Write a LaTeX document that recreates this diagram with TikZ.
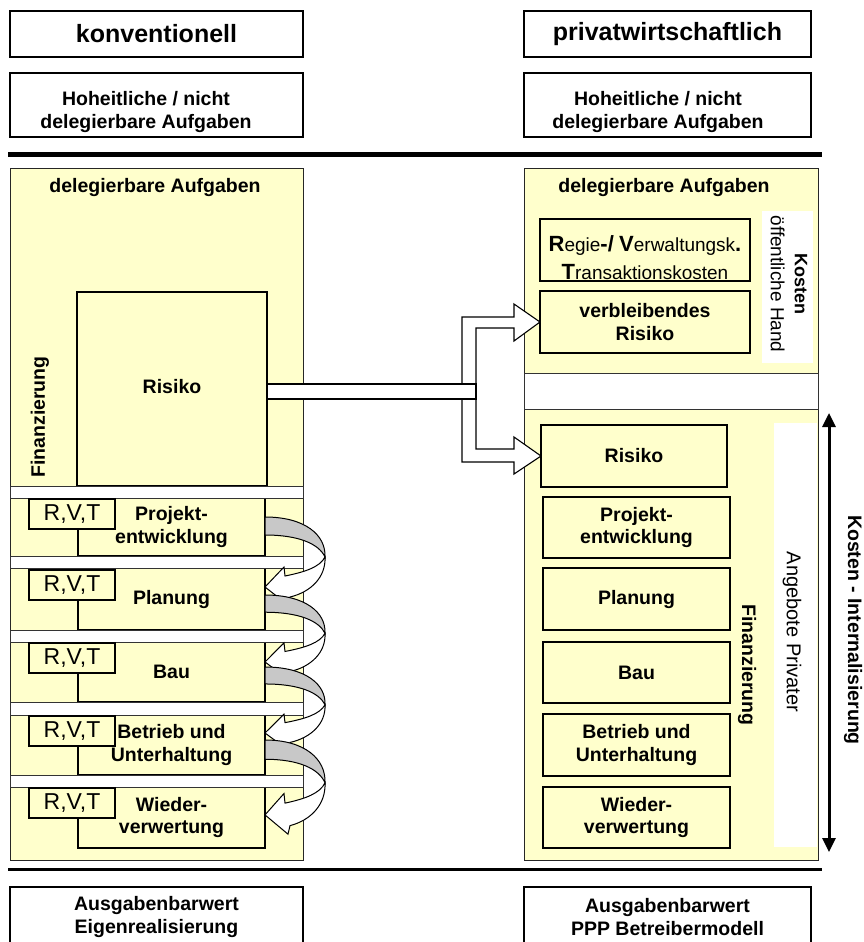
\documentclass[tikz,border=0pt]{standalone}
\usepackage{fontspec}
\setmainfont{Liberation Sans}
\usetikzlibrary{arrows.meta}
\definecolor{panelyellow}{HTML}{FFFFCC}
\definecolor{ribbongray}{HTML}{C8C8C8}
\newcommand\setfs[2]{\fontsize{#1}{#2}\selectfont}
\newcommand\capinit[1]{{\bfseries\setfs{22}{28}#1}}
% rectangle node given by its top-left and bottom-right corners
\newcommand\boxnode[7]{%
  \node[#1, anchor=north west, outer sep=0pt, inner sep=0pt,
        minimum width=#5pt-#3pt, minimum height=#6pt-#4pt] (#2) at (#3,#4) {#7};}
% folded hand-over arrow between two phase boxes
\newcommand\turnarrow[2]{%
  \begin{scope}[shift={(265,#1)}, yscale=#2]
    \filldraw[fill=ribbongray, draw=black, line width=1pt]
      (0,0) .. controls (40,0) and (61,18) .. (60,40)
            .. controls (54,27) and (34,18) .. (0,18) -- cycle;
    \filldraw[fill=white, draw=black, line width=1pt]
      (60,40) .. controls (61,60) and (46,75) .. (25,80)
      -- (23,88) -- (0,70) -- (19,50) -- (20,59)
      .. controls (40,55) and (55,50) .. (60,40) -- cycle;
  \end{scope}}
\tikzset{
  outline/.style={draw=black, line width=1.2pt, fill=white},
  ybox/.style={draw=black, line width=1.2pt, fill=panelyellow},
  panelbox/.style={draw=black!85, line width=1pt, fill=panelyellow},
  whitebar/.style={fill=white, draw=black!80, line width=0.9pt},
  b19/.style={font=\bfseries\setfs{19.5}{22.5}, align=center},
  rvt/.style={ybox, font=\setfs{23}{26}},
}
\begin{document}
\begin{tikzpicture}[x=1pt,y=-1pt]
\useasboundingbox (0,0) rectangle (863,942);

% ---------- headings ----------
\boxnode{outline,font=\bfseries\setfs{25}{29}}{konv}{10}{11}{303}{57}{konventionell}
\boxnode{outline,font=\bfseries\setfs{25}{29}}{priv}{524}{11}{811}{57}{privatwirtschaftlich}
\boxnode{outline}{hohL}{10}{73}{303}{137}{}
\boxnode{outline}{hohR}{524}{73}{811}{137}{}
\node[b19] (hohLt) at (146,112) {Hoheitliche / nicht\\delegierbare Aufgaben};
\node[b19] (hohRt) at (658,112) {Hoheitliche / nicht\\delegierbare Aufgaben};

\coordinate (topA) at (8,154.5);
\coordinate (topB) at (822,154.5);
\draw[line width=5pt] (topA) -- (topB);

% ---------- conventional side ----------
\boxnode{panelbox}{panL}{10}{168}{303}{860}{}
\node[b19] (delL) at (155,187) {delegierbare Aufgaben};
\boxnode{ybox}{riskL}{77}{292}{267}{486}{}
\node[b19] (riskLt) at (172,387) {Risiko};
\node[b19, rotate=90] (finL) at (40,417) {Finanzierung};

\boxnode{ybox,b19}{rowA}{78}{498}{265}{556}{Projekt-\\entwicklung}
\boxnode{ybox,b19}{rowB}{78}{568}{265}{630}{Planung}
\boxnode{ybox,b19}{rowC}{78}{642}{265}{702}{Bau}
\boxnode{ybox,b19}{rowD}{78}{715}{265}{775}{Betrieb und\\Unterhaltung}
\boxnode{ybox,b19}{rowE}{78}{787}{265}{848}{Wieder-\\verwertung}

\draw[whitebar] (10,486) rectangle (303,498);
\draw[whitebar] (10,556) rectangle (303,568);
\draw[whitebar] (10,630) rectangle (303,642);
\draw[whitebar] (10,702) rectangle (303,715);
\draw[whitebar] (10,775) rectangle (303,787);

\boxnode{rvt}{rvtA}{29}{499}{115}{529}{R,V,T}
\boxnode{rvt}{rvtB}{29}{570}{115}{600}{R,V,T}
\boxnode{rvt}{rvtC}{29}{643}{115}{673}{R,V,T}
\boxnode{rvt}{rvtD}{29}{716}{115}{746}{R,V,T}
\boxnode{rvt}{rvtE}{29}{788}{115}{818}{R,V,T}

% ---------- private side ----------
\boxnode{panelbox}{panR}{524}{168}{818}{860}{}
\node[b19] (delR) at (664,187) {delegierbare Aufgaben};
\boxnode{ybox}{regie}{540}{219}{750}{281}{}
\node[font=\setfs{19}{28}, align=center] (regiet) at (645,258)
  {\capinit{R}egie\capinit{-/} \capinit{V}erwaltungsk\capinit{.}\\\capinit{T}ransaktionskosten};
\boxnode{ybox,b19}{vrisk}{540}{291}{750}{353}{verbleibendes\\Risiko}
\fill[white] (762,211) rectangle (813,363);
\node[rotate=-90, align=center, font=\setfs{19}{24}] (koh) at (789,284)
  {{\bfseries\setfs{18}{24}Kosten}\\öffentliche Hand};

\draw[whitebar] (524,373) rectangle (818,409);

\fill[white] (774,423) rectangle (817.4,847);
\boxnode{ybox,b19}{riskR}{541}{425}{727}{487}{Risiko}
\boxnode{ybox,b19}{projR}{543}{497}{730}{558}{Projekt-\\entwicklung}
\boxnode{ybox,b19}{planR}{543}{568}{730}{630}{Planung}
\boxnode{ybox,b19}{bauR}{543}{642}{730}{703}{Bau}
\boxnode{ybox,b19}{betrR}{543}{714}{730}{776}{Betrieb und\\Unterhaltung}
\boxnode{ybox,b19}{wiedR}{543}{787}{730}{848}{Wieder-\\verwertung}
\node[b19, rotate=-90] (finR) at (747,665) {Finanzierung};
\node[rotate=-90, font=\setfs{20}{24}] (angeb) at (792,632) {Angebote Privater};

% ---------- risk transfer arrow ----------
\filldraw[fill=white, draw=black, line width=1.1pt]
  (462,399) -- (462,317) -- (514,317) -- (514,304) -- (vrisk.west)
  -- (514,341) -- (514,328) -- (476,328) -- (476,449) -- (514,449)
  -- (514,437) -- (riskR.west) -- (514,474) -- (514,462) -- (462,462) -- cycle;
\filldraw[fill=white, draw=black, line width=1.1pt] (riskL.east |- 0,384) rectangle (476,399);

% ---------- phase hand-over arrows ----------
\turnarrow{517}{1}
\turnarrow{595}{0.957}
\turnarrow{667}{0.943}
\turnarrow{740}{1.07}

% ---------- cost internalisation ----------
\coordinate (kiTop) at (829,413);
\coordinate (kiBot) at (829,852);
\draw[line width=3pt, {Triangle[width=13pt,length=14pt]}-{Triangle[width=13pt,length=14pt]}] (kiTop) -- (kiBot);
\node[b19, rotate=-90] (kiText) at (853,630) {Kosten - Internalisierung};

% ---------- results ----------
\coordinate (botA) at (8,869);
\coordinate (botB) at (822,869);
\draw[line width=3pt] (botA) -- (botB);
\boxnode{outline}{resL}{10}{887}{303}{960}{}
\boxnode{outline}{resR}{524}{887}{811}{960}{}
\node[b19] (resLt) at (156.5,917) {Ausgabenbarwert\\Eigenrealisierung};
\node[b19] (resRt) at (667.5,917) {Ausgabenbarwert\\PPP Betreibermodell};
\end{tikzpicture}
\end{document}
